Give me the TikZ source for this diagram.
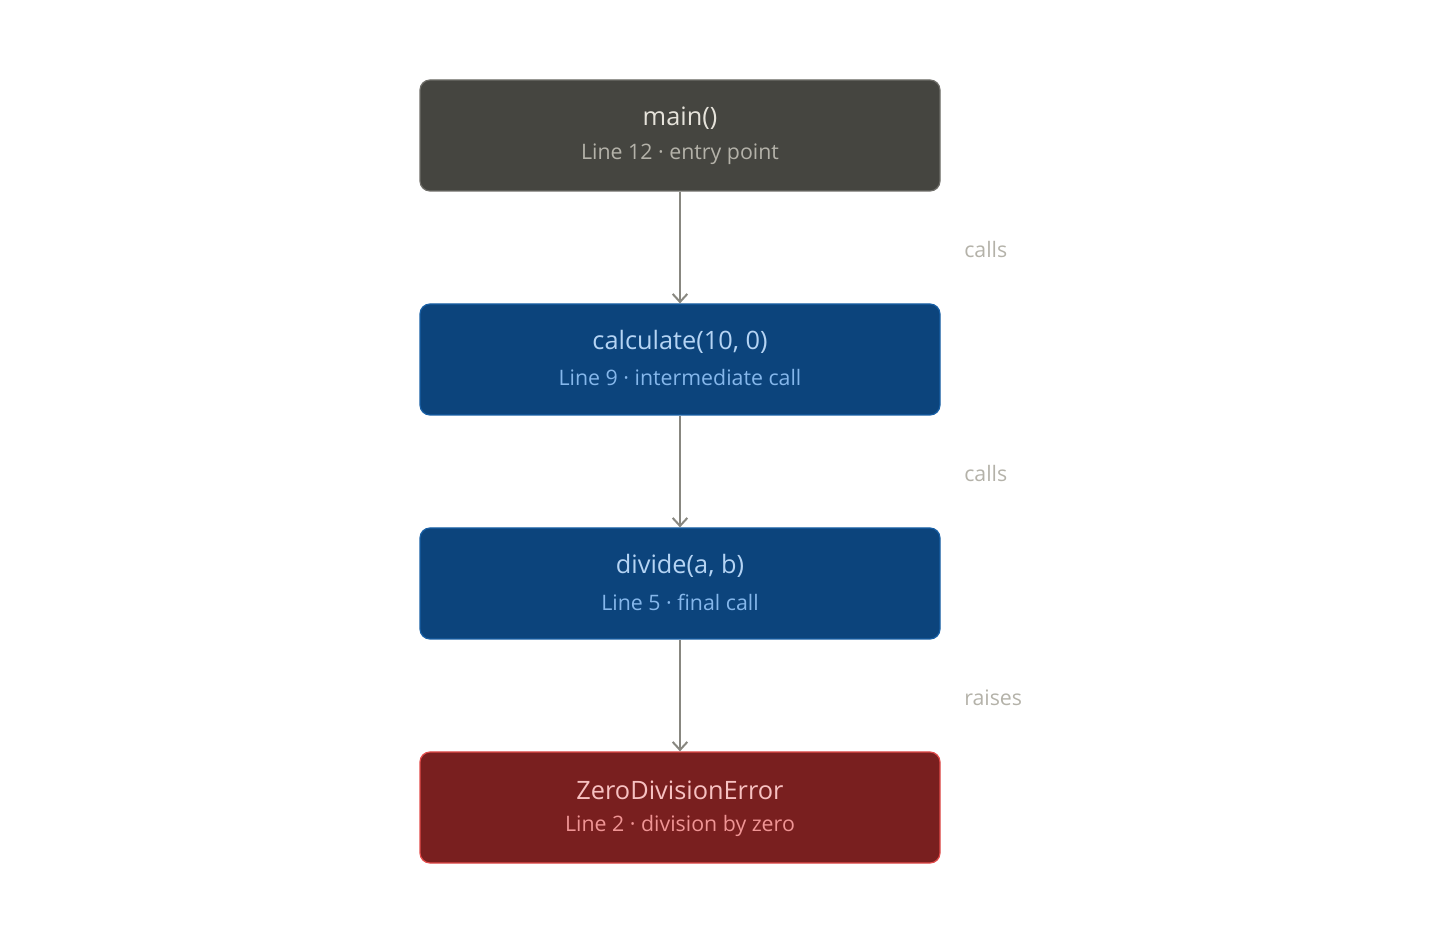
\documentclass[tikz,border=0pt]{standalone}
\usepackage{fontspec}
\setmainfont{Open Sans}
\usetikzlibrary{arrows.meta}
\definecolor{gfill}{HTML}{454540}\definecolor{gline}{HTML}{6E6D68}
\definecolor{gt}{HTML}{E6E3DB}\definecolor{gs}{HTML}{B4B2A9}
\definecolor{bfill}{HTML}{0C447C}\definecolor{bline}{HTML}{185FA5}
\definecolor{bt}{HTML}{B5D4F4}\definecolor{bs}{HTML}{85B7EB}
\definecolor{rfill}{HTML}{791F1F}\definecolor{rline}{HTML}{E24B4A}
\definecolor{rt}{HTML}{F7C1C1}\definecolor{rs}{HTML}{F09595}
\definecolor{arr}{HTML}{888780}\definecolor{lab}{HTML}{B4B2A9}
\begin{document}
\begin{tikzpicture}[x=0.75pt,y=-0.75pt,
  box/.style={draw,line width=0.9pt,rounded corners=7.5pt,minimum width=390pt,minimum height=83.25pt,inner sep=0pt,align=center},
  ttl/.style={font=\fontsize{19}{22}\selectfont},
  sub/.style={font=\fontsize{16}{19}\selectfont},
  conn/.style={draw=arr,line width=1.5pt,-{Straight Barb[length=6pt,width=11pt]}},
  lbl/.style={text=lab,font=\fontsize{16}{19}\selectfont,anchor=west,inner sep=0pt}]
\useasboundingbox (0,0) rectangle (1440,944);
\node[box,draw=gline,fill=gfill] (m) at (680,135.5) {};
\node[ttl,text=gt] at (680,118) {main()};
\node[sub,text=gs] at (680,154) {Line 12 · entry point};
\node[box,draw=bline,fill=bfill] (c) at (680,359.5) {};
\node[ttl,text=bt] at (680,342) {calculate(10, 0)};
\node[sub,text=bs] at (680,378) {Line 9 · intermediate call};
\node[box,draw=bline,fill=bfill] (d) at (680,583.5) {};
\node[ttl,text=bt] at (680,566) {divide(a, b)};
\node[sub,text=bs] at (680,602) {Line 5 · final call};
\node[box,draw=rline,fill=rfill] (z) at (680,807.5) {};
\node[ttl,text=rt] at (680,790) {ZeroDivisionError};
\node[sub,text=rs] at (680,826) {Line 2 · division by zero};
\draw[conn] (m) -- (c);
\draw[conn] (c) -- (d);
\draw[conn] (d) -- (z);
\node[lbl] (l1) at (964,250) {calls};
\node[lbl] (l2) at (964,474) {calls};
\node[lbl] (l3) at (964,698) {raises};
\end{tikzpicture}
\end{document}
